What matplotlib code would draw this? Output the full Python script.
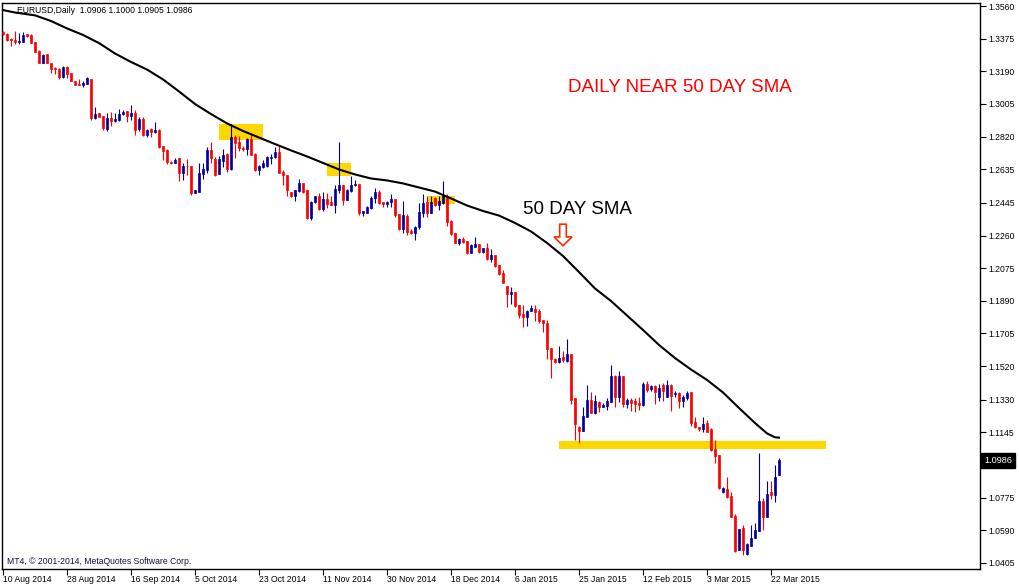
import numpy as np
import matplotlib.pyplot as plt
import matplotlib.transforms as mtransforms
from matplotlib.patches import Rectangle, Polygon

plt.rcParams['font.family'] = ['Liberation Sans', 'DejaVu Sans']

# Date labels, one every 16 daily bars (MT4 with Sunday bars)
date_labels = ["10 Aug 2014", "28 Aug 2014", "16 Sep 2014", "5 Oct 2014", "23 Oct 2014",
               "11 Nov 2014", "30 Nov 2014", "18 Dec 2014", "6 Jan 2015", "25 Jan 2015",
               "12 Feb 2015", "3 Mar 2015", "22 Mar 2015"]
bars_per_label = 16

price_labels = ["1.3560", "1.3375", "1.3190", "1.3005", "1.2820", "1.2635", "1.2445", "1.2260",
                "1.2075", "1.1890", "1.1705", "1.1520", "1.1330", "1.1145", "1.0960", "1.0775",
                "1.0590", "1.0405"]

# EURUSD daily OHLC
opens = [1.3415, 1.3402, 1.3375, 1.3369, 1.3358, 1.3358, 1.3400, 1.3396, 1.3356, 1.3305,
         1.3239, 1.3287, 1.3237, 1.3207, 1.3205, 1.3157, 1.3216, 1.3179, 1.3136, 1.3119,
         1.3113, 1.3119, 1.3147, 1.2926, 1.2954, 1.2937, 1.2864, 1.2926, 1.2909, 1.2915,
         1.2949, 1.2966, 1.2939, 1.2956, 1.2862, 1.2920, 1.2830, 1.2864, 1.2849, 1.2858,
         1.2768, 1.2745, 1.2679, 1.2673, 1.2698, 1.2613, 1.2654, 1.2654, 1.2503, 1.2509,
         1.2609, 1.2632, 1.2745, 1.2692, 1.2609, 1.2684, 1.2722, 1.2636, 1.2820, 1.2792,
         1.2758, 1.2751, 1.2806, 1.2722, 1.2632, 1.2649, 1.2651, 1.2698, 1.2704, 1.2735,
         1.2617, 1.2604, 1.2509, 1.2485, 1.2513, 1.2560, 1.2515, 1.2358, 1.2452, 1.2481,
         1.2411, 1.2466, 1.2447, 1.2434, 1.2519, 1.2547, 1.2462, 1.2513, 1.2547, 1.2553,
         1.2387, 1.2390, 1.2415, 1.2472, 1.2509, 1.2447, 1.2439, 1.2447, 1.2466, 1.2383,
         1.2295, 1.2371, 1.2287, 1.2276, 1.2307, 1.2390, 1.2447, 1.2390, 1.2472, 1.2434,
         1.2442, 1.2485, 1.2344, 1.2276, 1.2219, 1.2242, 1.2231, 1.2163, 1.2197, 1.2212,
         1.2168, 1.2188, 1.2125, 1.2150, 1.2093, 1.2049, 1.1974, 1.1929, 1.1942, 1.1866,
         1.1815, 1.1797, 1.1834, 1.1844, 1.1834, 1.1781, 1.1766, 1.1621, 1.1559, 1.1545,
         1.1574, 1.1551, 1.1589, 1.1338, 1.1177, 1.1154, 1.1234, 1.1328, 1.1256, 1.1319,
         1.1290, 1.1294, 1.1319, 1.1464, 1.1344, 1.1464, 1.1306, 1.1328, 1.1324, 1.1313,
         1.1300, 1.1419, 1.1391, 1.1408, 1.1347, 1.1413, 1.1347, 1.1413, 1.1362, 1.1370,
         1.1324, 1.1338, 1.1375, 1.1205, 1.1174, 1.1162, 1.1200, 1.1162, 1.1052, 1.1017,
         1.0809, 1.0822, 1.0785, 1.0671, 1.0479, 1.0602, 1.0456, 1.0501, 1.0545, 1.0588,
         1.0758, 1.0667, 1.0809, 1.0790, 1.0906]
highs = [1.3417, 1.3406, 1.3376, 1.3419, 1.3406, 1.3411, 1.3402, 1.3400, 1.3358, 1.3309,
         1.3287, 1.3290, 1.3238, 1.3213, 1.3209, 1.3220, 1.3220, 1.3181, 1.3136, 1.3147,
         1.3136, 1.3158, 1.3148, 1.2988, 1.2956, 1.2938, 1.2954, 1.2958, 1.2954, 1.2977,
         1.2971, 1.2967, 1.3000, 1.2971, 1.2934, 1.2930, 1.2862, 1.2870, 1.2902, 1.2862,
         1.2768, 1.2749, 1.2684, 1.2698, 1.2698, 1.2670, 1.2692, 1.2655, 1.2519, 1.2673,
         1.2673, 1.2764, 1.2790, 1.2707, 1.2711, 1.2749, 1.2730, 1.2892, 1.2830, 1.2824,
         1.2768, 1.2811, 1.2843, 1.2730, 1.2660, 1.2688, 1.2711, 1.2722, 1.2764, 1.2773,
         1.2632, 1.2604, 1.2509, 1.2519, 1.2579, 1.2560, 1.2515, 1.2458, 1.2485, 1.2503,
         1.2509, 1.2500, 1.2481, 1.2547, 1.2792, 1.2547, 1.2523, 1.2598, 1.2575, 1.2553,
         1.2400, 1.2428, 1.2481, 1.2528, 1.2519, 1.2451, 1.2458, 1.2496, 1.2466, 1.2383,
         1.2456, 1.2383, 1.2295, 1.2314, 1.2442, 1.2496, 1.2481, 1.2481, 1.2476, 1.2481,
         1.2569, 1.2496, 1.2348, 1.2276, 1.2246, 1.2253, 1.2231, 1.2212, 1.2253, 1.2212,
         1.2189, 1.2219, 1.2182, 1.2150, 1.2093, 1.2065, 1.1974, 1.1970, 1.1942, 1.1866,
         1.1866, 1.1838, 1.1866, 1.1866, 1.1842, 1.1782, 1.1781, 1.1621, 1.1564, 1.1634,
         1.1607, 1.1672, 1.1589, 1.1338, 1.1181, 1.1290, 1.1413, 1.1375, 1.1357, 1.1324,
         1.1310, 1.1338, 1.1527, 1.1470, 1.1494, 1.1464, 1.1338, 1.1338, 1.1338, 1.1344,
         1.1432, 1.1438, 1.1416, 1.1413, 1.1419, 1.1423, 1.1442, 1.1419, 1.1381, 1.1375,
         1.1357, 1.1381, 1.1375, 1.1234, 1.1174, 1.1234, 1.1215, 1.1168, 1.1102, 1.1017,
         1.0837, 1.0890, 1.0809, 1.0683, 1.0596, 1.0620, 1.0520, 1.0620, 1.0633, 1.1030,
         1.0772, 1.0871, 1.0871, 1.0960, 1.1000]
lows = [1.3398, 1.3364, 1.3335, 1.3343, 1.3347, 1.3356, 1.3386, 1.3349, 1.3300, 1.3238,
        1.3236, 1.3237, 1.3183, 1.3177, 1.3149, 1.3154, 1.3154, 1.3135, 1.3112, 1.3113,
        1.3102, 1.3118, 1.2917, 1.2920, 1.2931, 1.2856, 1.2853, 1.2883, 1.2905, 1.2909,
        1.2943, 1.2905, 1.2915, 1.2830, 1.2854, 1.2824, 1.2817, 1.2817, 1.2840, 1.2758,
        1.2688, 1.2666, 1.2666, 1.2670, 1.2566, 1.2575, 1.2604, 1.2490, 1.2502, 1.2508,
        1.2579, 1.2612, 1.2670, 1.2598, 1.2607, 1.2647, 1.2617, 1.2632, 1.2698, 1.2741,
        1.2741, 1.2717, 1.2716, 1.2628, 1.2604, 1.2643, 1.2647, 1.2664, 1.2698, 1.2612,
        1.2547, 1.2481, 1.2477, 1.2456, 1.2509, 1.2503, 1.2353, 1.2349, 1.2443, 1.2405,
        1.2396, 1.2415, 1.2432, 1.2390, 1.2500, 1.2434, 1.2461, 1.2509, 1.2541, 1.2377,
        1.2371, 1.2387, 1.2409, 1.2443, 1.2439, 1.2421, 1.2421, 1.2419, 1.2367, 1.2291,
        1.2276, 1.2263, 1.2269, 1.2235, 1.2295, 1.2363, 1.2363, 1.2387, 1.2428, 1.2405,
        1.2439, 1.2314, 1.2263, 1.2216, 1.2206, 1.2219, 1.2155, 1.2162, 1.2193, 1.2159,
        1.2159, 1.2121, 1.2112, 1.2083, 1.2036, 1.1993, 1.1857, 1.1872, 1.1853, 1.1791,
        1.1740, 1.1747, 1.1833, 1.1777, 1.1763, 1.1715, 1.1559, 1.1451, 1.1540, 1.1540,
        1.1545, 1.1545, 1.1306, 1.1102, 1.1083, 1.1154, 1.1230, 1.1253, 1.1249, 1.1262,
        1.1287, 1.1272, 1.1319, 1.1290, 1.1319, 1.1290, 1.1281, 1.1268, 1.1262, 1.1272,
        1.1294, 1.1375, 1.1379, 1.1306, 1.1324, 1.1324, 1.1347, 1.1268, 1.1347, 1.1281,
        1.1287, 1.1328, 1.1181, 1.1168, 1.1154, 1.1149, 1.1148, 1.1041, 1.0973, 1.0822,
        1.0803, 1.0772, 1.0667, 1.0469, 1.0478, 1.0450, 1.0450, 1.0500, 1.0544, 1.0588,
        1.0592, 1.0667, 1.0766, 1.0752, 1.0905]
closes = [1.3400, 1.3369, 1.3366, 1.3358, 1.3364, 1.3396, 1.3390, 1.3352, 1.3301, 1.3239,
          1.3283, 1.3239, 1.3202, 1.3202, 1.3157, 1.3216, 1.3175, 1.3136, 1.3113, 1.3115,
          1.3126, 1.3151, 1.2928, 1.2949, 1.2932, 1.2868, 1.2926, 1.2909, 1.2920, 1.2949,
          1.2962, 1.2939, 1.2954, 1.2858, 1.2920, 1.2830, 1.2858, 1.2849, 1.2858, 1.2764,
          1.2741, 1.2679, 1.2673, 1.2688, 1.2613, 1.2654, 1.2651, 1.2503, 1.2515, 1.2613,
          1.2636, 1.2745, 1.2698, 1.2604, 1.2692, 1.2717, 1.2636, 1.2820, 1.2786, 1.2755,
          1.2751, 1.2806, 1.2717, 1.2632, 1.2654, 1.2669, 1.2707, 1.2707, 1.2735, 1.2613,
          1.2604, 1.2519, 1.2485, 1.2519, 1.2560, 1.2509, 1.2358, 1.2452, 1.2481, 1.2411,
          1.2466, 1.2439, 1.2434, 1.2523, 1.2547, 1.2462, 1.2519, 1.2547, 1.2553, 1.2387,
          1.2396, 1.2421, 1.2472, 1.2509, 1.2443, 1.2439, 1.2452, 1.2464, 1.2377, 1.2295,
          1.2377, 1.2282, 1.2276, 1.2307, 1.2393, 1.2442, 1.2387, 1.2448, 1.2434, 1.2458,
          1.2485, 1.2338, 1.2269, 1.2219, 1.2242, 1.2225, 1.2163, 1.2206, 1.2212, 1.2168,
          1.2188, 1.2125, 1.2150, 1.2087, 1.2042, 1.1993, 1.1929, 1.1942, 1.1861, 1.1810,
          1.1797, 1.1834, 1.1848, 1.1828, 1.1777, 1.1763, 1.1615, 1.1559, 1.1545, 1.1564,
          1.1555, 1.1589, 1.1328, 1.1192, 1.1154, 1.1238, 1.1328, 1.1256, 1.1324, 1.1290,
          1.1300, 1.1324, 1.1464, 1.1344, 1.1464, 1.1306, 1.1328, 1.1313, 1.1306, 1.1300,
          1.1419, 1.1385, 1.1410, 1.1375, 1.1395, 1.1381, 1.1413, 1.1351, 1.1370, 1.1324,
          1.1344, 1.1366, 1.1200, 1.1174, 1.1162, 1.1192, 1.1149, 1.1045, 1.1011, 1.0828,
          1.0828, 1.0781, 1.0667, 1.0475, 1.0596, 1.0479, 1.0513, 1.0545, 1.0592, 1.0758,
          1.0667, 1.0796, 1.0790, 1.0894, 1.0986]

# 50 day SMA, read at selected bars
sma_bars = [0, 3, 8, 12, 16, 20, 24, 28, 32, 36, 40, 44, 48, 52, 56, 60, 64, 68, 72, 76,
            80, 84, 88, 92, 96, 100, 104, 108, 112, 116, 120, 124, 128, 132, 136, 140, 144,
            148, 152, 156, 160, 164, 168, 172, 176, 180, 184, 188, 191, 193, 194]
sma_values = [1.3537, 1.3523, 1.3507, 1.3475, 1.3433, 1.3396, 1.3350, 1.3291, 1.3243, 1.3200,
              1.3144, 1.3076, 1.3005, 1.2948, 1.2895, 1.2852, 1.2815, 1.2778, 1.2742, 1.2708,
              1.2671, 1.2634, 1.2606, 1.2583, 1.2572, 1.2555, 1.2532, 1.2509, 1.2470, 1.2430,
              1.2399, 1.2373, 1.2331, 1.2283, 1.2218, 1.2144, 1.2053, 1.1960, 1.1889, 1.1807,
              1.1725, 1.1640, 1.1566, 1.1501, 1.1442, 1.1371, 1.1283, 1.1198, 1.1139, 1.1117,
              1.1115]

bull_color = '#0000a0'
bear_color = '#ff0000'
box_color = '#ffd700'

o = np.array(opens)
h = np.array(highs)
l = np.array(lows)
c = np.array(closes)
x = np.arange(len(c))
colors = np.where(c > o, bull_color, bear_color)

fig = plt.figure(figsize=(10.2, 5.87), dpi=100)
ax = fig.add_axes([2 / 1020, 18 / 587, 978 / 1020, 566 / 587])

# highlighted zones
ax.add_patch(Rectangle((54, 1.2801), 11, 0.0091, color=box_color, zorder=1, lw=0))
ax.add_patch(Rectangle((81, 1.2597), 6, 0.0074, color=box_color, zorder=1, lw=0))
ax.add_patch(Rectangle((106, 1.2439), 7, 0.0045, color=box_color, zorder=1, lw=0))
ax.add_patch(Rectangle((139, 1.1051), 66.75, 0.0047, color=box_color, zorder=1, lw=0))

# candles
ax.vlines(x, l, h, colors=colors, linewidth=0.8, zorder=2)
ax.bar(x, np.abs(c - o), bottom=np.minimum(o, c), width=0.55, color=colors,
       edgecolor=colors, linewidth=0.5, zorder=3)

# 50 day SMA
ax.plot(sma_bars, sma_values, color='black', linewidth=1.5, zorder=4)

ax.set_xlim(-0.25, 244.25)
ax.set_ylim(1.0371, 1.3577)

ax.yaxis.tick_right()
ax.set_yticks([float(p) for p in price_labels])
ax.set_yticklabels(price_labels)
ax.set_xticks([i * bars_per_label for i in range(len(date_labels))])
ax.set_xticklabels(date_labels, ha='left')
ax.tick_params(axis='x', length=4, width=0.8, pad=0.5, labelsize=6.2, direction='out')
ax.tick_params(axis='y', length=4, width=0.8, pad=2, labelsize=6.2, direction='out')
for sp in ax.spines.values():
    sp.set_color('black')
    sp.set_linewidth(1.0)

# texts
ax.text(0.0153, 0.986, "EURUSD,Daily  1.0906 1.1000 1.0905 1.0986", transform=ax.transAxes,
        fontsize=6.2, va='center', ha='left', color='black')
ax.text(0.0051, 0.0124, "MT4, \u00a9 2001-2014, MetaQuotes Software Corp.", transform=ax.transAxes,
        fontsize=6.2, va='center', ha='left', color='#101040')
ax.text(141.25, 1.3101, "DAILY NEAR 50 DAY SMA", fontsize=13.5, color='#ff0000',
        va='center', ha='left')
ax.text(130, 1.2410, "50 DAY SMA", fontsize=13.5, color='black', va='center', ha='left')

# hollow down arrow under the label
arrow = Polygon([(139.17, 1.2324), (140.83, 1.2324), (140.83, 1.2252), (142.25, 1.2252),
                 (140, 1.2202), (137.75, 1.2252), (139.17, 1.2252)], closed=True,
                facecolor='white', edgecolor='#ff2a00', linewidth=1.2, zorder=5)
ax.add_patch(arrow)

# current price tag
trans = mtransforms.blended_transform_factory(ax.transAxes, ax.transData)
ax.text(1.0045, closes[-1], f"{closes[-1]:.4f}", transform=trans, fontsize=6.6, color='white',
        va='center', ha='left', zorder=10, clip_on=False,
        bbox=dict(boxstyle='square,pad=0.35', facecolor='black', edgecolor='black'))

fig.savefig('out.png', dpi=100, facecolor='white')
